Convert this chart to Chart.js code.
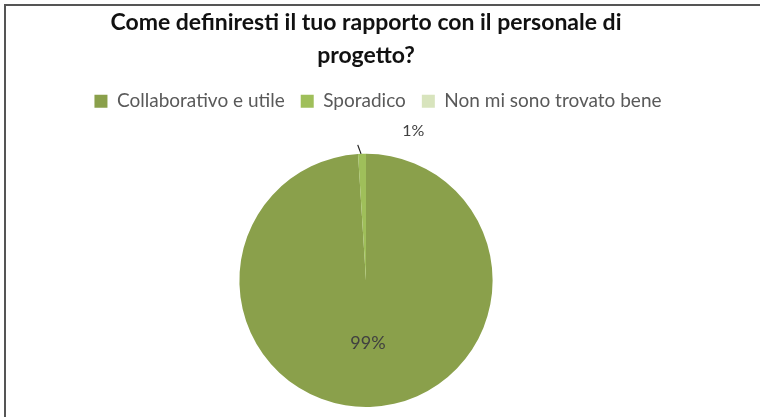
<!DOCTYPE html>
<html>
<head>
<meta charset="utf-8">
<script src="https://cdn.jsdelivr.net/npm/chart.js@4.4.1/dist/chart.umd.min.js"></script>
<style>
  html, body { margin: 0; padding: 0; background: #fff; }
  #wrap { position: relative; width: 760px; height: 417px; overflow: hidden; }
  #frame { position: absolute; left: 4px; top: 4px; width: 780px; height: 430px;
           border-top: 2px solid #555; border-left: 2px solid #555; }
  #chart-box { position: absolute; left: 0; top: 0; width: 732px; height: 417px; }
</style>
</head>
<body>
<div id="wrap">
  <div id="frame"></div>
  <div id="chart-box"><canvas id="pieCanvas"></canvas></div>
</div>
<script>
// Data
const categories = ["Collaborativo e utile", "Sporadico", "Non mi sono trovato bene"];
const percentages = [99, 1, 0];
const sliceColors = ["#8aa04b", "#9fbf5a", "#d8e4bd"];
const titleLines = ["Come definiresti il tuo rapporto con il personale di", "progetto?"];

// Extra room between the legend and the pie, legend nudged a bit right
const legendGap = {
    id: "legendGap",
    beforeInit(chart) {
        const origFit = chart.legend.fit;
        chart.legend.fit = function () {
            origFit.bind(chart.legend)();
            this.height += 33;
        };
    },
    afterLayout(chart) {
        chart.legend.left += 12;
        chart.legend.right += 12;
    }
};

// Percent labels drawn on / beside the slices
const sliceLabels = {
    id: "sliceLabels",
    afterDatasetsDraw(chart) {
        const ctx = chart.ctx;
        const meta = chart.getDatasetMeta(0);
        ctx.save();
        ctx.font = "18px Lato";
        ctx.fillStyle = "#404040";
        ctx.textAlign = "center";
        ctx.textBaseline = "middle";
        meta.data.forEach((arc, i) => {
            const value = percentages[i];
            if (!value) return;
            const mid = (arc.startAngle + arc.endAngle) / 2;
            const r = arc.outerRadius;
            if (value > 50) {
                ctx.fillText(value + "%", arc.x + Math.cos(mid) * r * 0.5, arc.y + Math.sin(mid) * r * 0.5);
            } else {
                // small slice: leader line and label outside
                ctx.strokeStyle = "#222";
                ctx.lineWidth = 1.2;
                ctx.beginPath();
                ctx.moveTo(arc.x + Math.cos(mid) * r - 1, arc.y + Math.sin(mid) * r);
                ctx.lineTo(arc.x + Math.cos(mid) * (r + 9) - 4, arc.y + Math.sin(mid) * (r + 9));
                ctx.stroke();
                ctx.font = "16px Lato";
                ctx.fillText(value + "%", arc.x + Math.cos(mid) * (r + 23) + 52, arc.y + Math.sin(mid) * (r + 23));
            }
        });
        ctx.restore();
    }
};

const ctx = document.getElementById("pieCanvas").getContext("2d");
const pieChart = new Chart(ctx, {
    type: "pie",
    data: {
        labels: categories,
        datasets: [{
            data: percentages,
            backgroundColor: sliceColors,
            borderWidth: 0
        }]
    },
    options: {
        responsive: true,
        maintainAspectRatio: false,
        animation: false,
        layout: { padding: { top: 0, bottom: 10, left: 0, right: 0 } },
        plugins: {
            title: {
                display: true,
                text: titleLines,
                color: "#111",
                font: { family: "Lato", size: 23, weight: "bold", lineHeight: 1.43 },
                padding: { top: 6, bottom: 4 }
            },
            legend: {
                display: true,
                position: "top",
                labels: {
                    color: "#595959",
                    font: { family: "Lato", size: 19 },
                    boxWidth: 13,
                    boxHeight: 13,
                    padding: 16
                }
            },
            tooltip: { enabled: false }
        }
    },
    plugins: [legendGap, sliceLabels]
});
</script>
</body>
</html>
